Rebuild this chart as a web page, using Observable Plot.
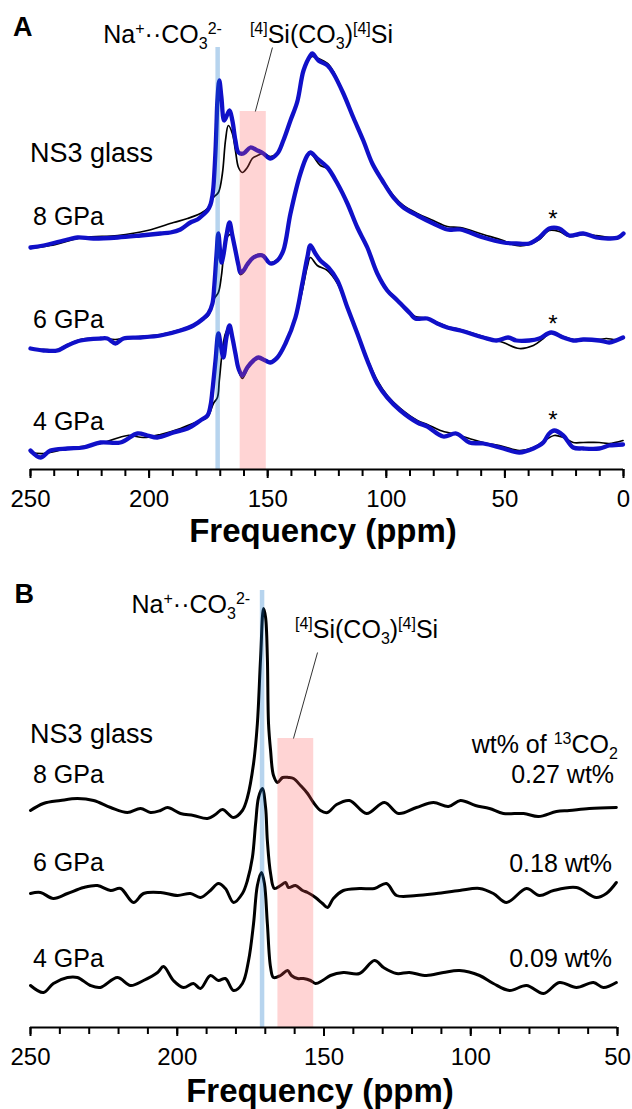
<!DOCTYPE html>
<html>
<head>
<meta charset="utf-8">
<script src="https://cdn.jsdelivr.net/npm/d3@7"></script>
<script src="https://cdn.jsdelivr.net/npm/@observablehq/plot@0.6"></script>
<style>
  body { margin: 0; background: #fff; }
  #fig svg { display: block; }
  #fig text { white-space: pre; }
</style>
</head>
<body>
<div id="fig"></div>
<script>
// 13C MAS NMR spectra of NS3 glasses quenched from 4, 6 and 8 GPa.
// Panel A: black = reference spectrum, blue = second acquisition; panel B: carbonate region.
const FONT = '"Liberation Sans", Arial, Helvetica, sans-serif';
const BLUE = "#1010c8";

const pressures = ["8 GPa", "6 GPa", "4 GPa"];
const wtLabels = ["0.27 wt%", "0.18 wt%", "0.09 wt%"];
const ticksA = [250, 200, 150, 100, 50, 0];
const ticksB = [250, 200, 150, 100, 50];
const minorA = d3.range(0, 251, 10);
const minorB = d3.range(50, 251, 10);

// vertical stacking offsets of each spectrum (a.u.)
const offsetsA = [22.2, 12.1, 1.7];
const offsetsB = [21.7, 13.4, 4.2];

// assignment ranges (ppm)
const naCarbonate = 171.1;
const bridgingA = [161.6, 150.6];
const bridgingB = [165.7, 153.5];

// ---- Panel A spectra: [ppm, intensity a.u.] ----
const a8Blue = [[250.0,0.0],[244.5,0.2],[234.4,0.8],[230.2,1.0],[223.5,0.9],[213.3,1.0],[203.6,1.2],[195.2,1.4],[191.0,1.5],[186.8,1.8],[182.6,2.5],[179.6,2.8],[177.1,3.3],[175.4,3.7],[174.1,4.3],[173.3,5.2],[172.9,6.0],[172.0,9.7],[171.6,12.2],[171.2,14.7],[170.4,16.7],[169.5,15.0],[168.3,12.7],[166.1,13.7],[164.9,12.7],[163.6,10.7],[162.3,9.5],[160.2,9.4],[157.3,10.0],[154.3,9.7],[151.8,9.4],[148.9,8.9],[145.9,9.4],[143.4,10.7],[140.4,12.7],[137.5,14.6],[134.9,17.7],[132.0,19.2],[131.2,19.4],[128.6,18.7],[124.8,18.2],[122.3,17.4],[118.1,15.4],[113.9,13.0],[109.7,10.7],[105.9,8.4],[101.7,6.7],[97.0,5.0],[92.8,4.0],[86.9,3.2],[80.2,2.4],[74.3,1.8],[68.8,1.8],[59.1,1.0],[50.7,0.5],[45.2,0.4],[39.7,0.4],[35.5,1.0],[31.3,1.9],[27.1,1.9],[22.9,1.2],[17.0,1.4],[11.5,1.0],[6.0,0.9],[2.2,1.0],[0.0,1.4]];
const a8Black = [[250.0,-0.1],[241.6,0.2],[227.7,1.0],[213.3,1.2],[200.7,1.7],[189.7,2.5],[183.8,2.9],[178.4,3.4],[175.4,3.9],[172.9,5.0],[170.8,5.5],[169.1,7.4],[167.8,10.7],[166.6,12.2],[164.9,11.4],[163.6,9.7],[162.3,8.0],[160.7,7.5],[158.6,8.0],[156.5,8.9],[154.3,9.2],[151.8,9.4],[148.9,9.1],[145.9,9.5],[143.4,10.8],[140.4,12.8],[137.5,14.7],[134.9,17.6],[132.0,19.0],[131.2,19.1],[128.6,18.9],[124.8,18.4],[122.3,17.6],[118.1,15.5],[113.9,13.1],[109.7,10.8],[105.9,8.5],[101.7,6.8],[97.0,5.2],[92.8,4.2],[86.9,3.4],[80.2,2.7],[74.3,2.1],[68.8,2.0],[59.1,1.3],[50.7,0.7],[45.2,0.2],[39.7,0.3],[35.5,0.8],[31.3,1.7],[27.1,1.6],[22.9,1.1],[17.0,1.3],[11.5,1.2],[6.0,1.0],[2.2,1.1],[0.0,1.4]];
const a6Blue = [[250.0,0.0],[244.5,-0.2],[238.6,-0.2],[234.4,0.3],[228.9,0.8],[220.5,1.0],[217.6,1.0],[214.2,0.5],[210.8,1.0],[203.6,1.1],[195.2,1.3],[186.8,1.8],[181.3,2.3],[177.1,3.0],[175.0,3.5],[173.3,4.5],[172.5,6.3],[171.6,9.3],[170.8,11.5],[169.5,8.6],[168.7,9.3],[167.4,11.3],[166.1,12.6],[164.9,11.3],[163.6,9.8],[162.3,8.3],[161.5,7.6],[160.2,7.8],[158.6,8.4],[156.0,9.1],[152.2,9.3],[148.9,8.5],[145.9,8.8],[143.4,9.8],[140.4,13.5],[136.2,17.5],[133.3,19.3],[132.0,19.6],[129.1,19.0],[124.8,18.1],[120.6,16.5],[116.4,14.5],[112.2,12.1],[108.0,10.1],[103.8,7.5],[99.6,5.8],[95.3,4.8],[89.9,3.5],[87.8,3.0],[82.7,3.0],[78.5,2.5],[74.3,2.1],[68.8,1.8],[59.1,1.1],[53.6,0.8],[48.6,1.1],[45.2,0.8],[39.7,0.8],[35.5,1.0],[30.5,1.6],[25.4,1.1],[21.2,0.8],[17.0,0.9],[10.2,0.8],[6.0,0.6],[3.1,0.8],[0.2,1.1]];
const a6Black = [[250.0,0.0],[244.5,-0.1],[238.6,-0.1],[234.4,0.4],[228.9,0.9],[220.5,1.0],[214.2,0.9],[210.8,1.0],[203.6,1.2],[195.2,1.4],[186.8,1.9],[181.3,2.3],[177.1,2.9],[175.0,3.3],[173.3,4.3],[172.5,5.0],[170.8,5.6],[169.5,7.3],[168.3,9.8],[166.6,11.3],[165.3,11.4],[163.6,9.9],[162.3,8.0],[161.5,7.4],[160.2,7.6],[158.6,8.4],[156.0,9.2],[152.2,9.4],[148.9,8.6],[145.9,8.9],[143.4,9.9],[140.4,13.4],[136.2,17.4],[133.3,19.2],[132.0,19.5],[127.8,18.3],[124.8,18.0],[120.6,16.4],[116.4,14.4],[112.2,12.0],[108.0,10.0],[103.8,7.6],[99.6,5.9],[95.3,4.9],[89.9,3.6],[87.8,3.2],[82.7,3.0],[78.5,2.6],[74.3,2.2],[68.8,1.9],[59.1,1.2],[50.7,0.6],[43.9,0.0],[38.0,0.3],[33.8,1.0],[30.5,1.6],[25.4,1.2],[21.2,0.9],[17.0,0.9],[10.2,0.9],[7.3,1.0],[3.1,0.9],[0.2,1.1]];
const a4Blue = [[250.0,0.2],[245.8,-0.5],[241.6,0.2],[234.4,0.4],[227.7,0.5],[220.5,1.0],[212.1,1.0],[204.9,1.9],[200.7,1.7],[196.5,1.5],[189.7,2.0],[183.8,2.4],[178.4,3.2],[175.4,3.7],[174.1,4.7],[173.3,6.2],[172.0,9.2],[170.8,11.9],[169.9,10.9],[168.7,9.5],[167.4,11.5],[166.1,12.7],[164.9,11.5],[163.6,9.9],[162.3,8.4],[160.7,7.7],[158.6,8.5],[156.0,9.2],[153.9,9.5],[151.0,9.2],[148.9,9.0],[145.9,9.5],[142.5,10.9],[138.3,13.5],[135.4,16.9],[133.3,19.5],[132.0,20.7],[129.9,19.9],[127.8,19.2],[124.4,18.5],[120.6,17.2],[116.4,14.5],[112.2,11.9],[108.0,9.2],[103.8,6.9],[99.6,5.5],[94.1,4.2],[86.9,3.0],[82.7,2.6],[76.0,1.6],[70.5,1.9],[65.0,1.0],[59.1,0.9],[50.7,0.4],[43.9,0.0],[38.0,0.4],[33.8,1.0],[31.3,1.9],[29.2,2.2],[25.4,1.7],[21.2,0.5],[17.0,0.4],[10.2,0.4],[6.0,0.7],[0.2,0.8]];
const a4Black = [[250.0,0.0],[244.5,-0.1],[234.4,0.4],[220.5,0.9],[209.1,1.7],[202.4,1.5],[195.2,1.8],[186.8,2.4],[178.4,3.2],[175.4,3.5],[172.9,4.9],[171.2,5.5],[170.4,7.2],[169.1,10.2],[167.8,11.9],[166.1,12.6],[164.9,11.5],[163.6,9.7],[162.3,8.2],[160.7,7.4],[158.6,8.3],[156.0,9.2],[153.9,9.5],[151.0,9.3],[148.9,9.1],[145.9,9.6],[142.5,10.9],[138.3,13.4],[135.4,16.2],[133.3,18.6],[132.0,19.5],[129.1,18.7],[124.8,18.2],[120.6,16.9],[116.4,14.4],[112.2,12.0],[108.0,9.4],[103.8,7.2],[99.6,5.7],[94.1,4.4],[86.9,3.2],[82.7,2.8],[77.2,2.2],[70.5,1.8],[65.0,1.4],[59.1,1.0],[50.7,0.6],[43.9,0.2],[38.0,0.5],[33.8,1.1],[29.2,1.7],[25.4,1.5],[21.2,1.0],[17.0,1.0],[10.2,1.0],[6.0,0.9],[0.2,1.2]];

// ---- Panel B spectra: [ppm, intensity a.u.] ----
const b8 = [[250.0,0.0],[245.6,0.7],[239.8,1.0],[234.0,1.2],[228.5,1.0],[222.7,0.3],[217.0,-0.2],[212.5,0.2],[209.1,-0.2],[205.7,0.0],[203.3,0.3],[198.9,-0.3],[194.5,-0.5],[189.7,-0.8],[187.0,-0.4],[184.6,0.1],[180.8,-0.7],[177.8,0.0],[176.1,1.3],[174.0,4.7],[172.7,8.7],[171.6,15.3],[170.6,20.2],[169.9,19.3],[169.3,15.3],[168.9,8.7],[168.2,6.0],[167.2,3.5],[165.8,2.8],[164.1,3.3],[162.1,3.3],[160.4,3.2],[158.0,2.5],[155.6,1.7],[153.6,0.8],[151.2,0.0],[148.8,-0.2],[145.7,0.6],[141.3,1.0],[135.5,-0.3],[129.4,0.8],[124.6,-0.3],[118.5,0.3],[112.7,0.8],[107.6,0.4],[103.5,1.0],[98.4,0.5],[93.6,0.2],[88.9,-0.3],[82.0,-0.3],[76.9,-0.6],[70.8,-0.1],[66.4,0.0],[59.6,0.2],[50.4,0.3]];
const b6 = [[250.0,0.0],[246.6,0.1],[242.2,-0.5],[237.4,0.0],[231.9,0.6],[227.2,0.8],[222.7,0.3],[219.3,0.5],[214.9,-0.9],[211.5,0.0],[205.7,0.1],[199.9,-0.2],[195.5,0.0],[192.1,-0.4],[188.7,0.3],[186.0,1.0],[183.6,0.5],[180.8,-0.9],[177.8,0.0],[176.1,1.3],[174.4,3.6],[173.3,7.0],[172.3,9.6],[171.0,10.5],[169.9,8.6],[169.3,5.3],[168.2,2.0],[166.9,0.5],[164.8,0.8],[163.1,1.1],[162.1,0.6],[159.7,0.8],[157.3,0.3],[155.6,0.1],[152.9,-0.4],[150.5,-1.0],[148.8,-1.4],[146.8,-0.5],[143.4,0.3],[137.9,0.5],[132.8,0.5],[128.7,1.0],[125.3,-0.2],[118.5,-0.2],[111.7,0.0],[103.8,0.3],[97.0,0.5],[92.3,0.0],[87.8,-0.9],[81.0,0.5],[76.6,-0.2],[71.8,0.3],[64.0,0.6],[57.2,-0.4],[53.8,0.0],[50.4,1.1]];
const b4 = [[250.0,0.0],[245.6,-0.7],[242.2,0.2],[237.4,0.8],[234.0,0.8],[229.6,0.0],[226.2,-0.2],[220.4,0.8],[215.9,0.0],[211.5,0.5],[206.7,1.3],[204.7,1.9],[201.3,0.5],[197.9,-0.2],[194.5,0.2],[192.1,-0.3],[188.7,1.0],[186.0,0.5],[183.6,0.7],[180.8,-0.5],[177.8,0.2],[175.7,2.5],[174.0,6.2],[172.7,10.0],[171.3,11.3],[170.3,10.2],[169.3,6.2],[168.2,1.8],[167.2,0.8],[164.8,1.0],[162.4,1.5],[161.1,1.0],[159.0,0.7],[157.0,0.7],[154.6,0.5],[152.9,0.2],[150.5,0.5],[147.8,1.0],[143.4,1.3],[137.9,1.2],[132.8,2.5],[129.7,1.8],[125.3,1.2],[120.9,1.3],[115.1,1.0],[109.3,1.3],[103.8,1.5],[97.0,1.0],[92.3,0.2],[86.8,-0.5],[81.0,0.0],[75.2,-0.8],[69.8,0.3],[64.0,-0.2],[58.2,0.3],[54.8,-0.2],[50.4,0.3]];

// flatten a set of spectra into rows, lifted by their stacking offsets
function stack(spectra, offsets, tag) {
  return spectra.flatMap((s, i) =>
    s.map(([ppm, v]) => ({ppm, y: offsets[i] + v, key: tag + " " + pressures[i]})));
}

// text with super/subscript runs, placed through the plot's own scales
function rich(x, y, parts, {anchor = "start", size = 25, weight = "normal"} = {}) {
  return (index, scales) => {
    const t = d3.create("svg:text")
      .attr("x", scales.x(x)).attr("y", scales.y(y))
      .attr("text-anchor", anchor)
      .attr("font-family", FONT).attr("font-size", size).attr("font-weight", weight)
      .attr("fill", "#000");
    let shift = 0;
    for (const p of [].concat(parts)) {
      const [s, k] = Array.isArray(p) ? p : [p, ""];
      const target = k === "sup" ? -0.38 * size : k === "sub" ? 0.24 * size : 0;
      t.append("tspan").attr("dy", target - shift)
        .attr("font-size", k ? 0.64 * size : size).text(s);
      shift = target;
    }
    return t.node();
  };
}

const naLabel = ["Na", ["+", "sup"], "\u00B7\u00B7CO", ["3", "sub"], ["2-", "sup"]];
const siLabel = [["[4]", "sup"], "Si(CO", ["3", "sub"], ")", ["[4]", "sup"], "Si"];

function axisMarks(ticks, minor, titleDy) {
  return [
    Plot.ruleY([0], {stroke: "#000", strokeWidth: 2}),
    Plot.axisX({ticks: minor, tickSize: 7, strokeWidth: 2, tickFormat: () => "", label: null}),
    Plot.axisX({ticks, tickSize: 9, tickPadding: 11, strokeWidth: 2, fontSize: 24, tickFormat: d => String(d), label: null}),
    Plot.text(["Frequency (ppm)"], {text: d => d, frameAnchor: "bottom", dy: titleDy, dx: -4,
      lineAnchor: "bottom", fontSize: 33, fontWeight: "bold", fill: "#000"})
  ];
}

const lineOpts = {x: "ppm", y: "y", z: "key", curve: "catmull-rom", strokeLinejoin: "round", strokeLinecap: "round"};

// ---------------- Panel A ----------------
const blackA = stack([a8Black, a6Black, a4Black], offsetsA, "ref");
const blueA = stack([a8Blue, a6Blue, a4Blue], offsetsA, "new");

const plotA = Plot.plot({
  width: 632, height: 552,
  marginLeft: 30, marginRight: 9, marginTop: 0, marginBottom: 83,
  x: {domain: [250, 0]},
  y: {domain: [0, 46.9], axis: null},
  style: {fontFamily: FONT, fontSize: "24px", background: "#fff", color: "#000", overflow: "visible"},
  marks: [
    Plot.line(blackA, {...lineOpts, stroke: "#000", strokeWidth: 1.7}),
    Plot.line(blueA, {...lineOpts, stroke: BLUE, strokeWidth: 4.3}),
    Plot.rect([{x1: bridgingA[0], x2: bridgingA[1], y1: 0, y2: 35.8}],
      {x1: "x1", x2: "x2", y1: "y1", y2: "y2", fill: "#ff5555", fillOpacity: 0.25}),
    Plot.ruleX([naCarbonate], {y1: 0, y2: 42.2, stroke: "#1270c6", strokeOpacity: 0.3, strokeWidth: 4.5}),
    Plot.link([{x1: 155.2, y1: 35.8, x2: 148.0, y2: 42.2}],
      {x1: "x1", y1: "y1", x2: "x2", y2: "y2", stroke: "#333", strokeWidth: 1}),
    ...axisMarks(ticksA, minorA, 72),
    rich(257.2, 43.3, "A", {size: 27, weight: "bold"}),
    rich(169.1, 42.6, naLabel, {anchor: "end"}),
    rich(157.3, 42.6, siLabel),
    rich(250, 30.7, "NS3 glass", {size: 27}),
    rich(248.7, 24.4, pressures[0]),
    rich(248.7, 14.1, pressures[1]),
    rich(248.7, 3.9, pressures[2]),
    rich(29.5, 24.2, "*", {anchor: "middle", size: 24}),
    rich(29.5, 13.7, "*", {anchor: "middle", size: 24}),
    rich(29.5, 4.1, "*", {anchor: "middle", size: 24})
  ]
});

// ---------------- Panel B ----------------
const linesB = stack([b8, b6, b4], offsetsB, "b");

const plotB = Plot.plot({
  width: 632, height: 557,
  marginLeft: 30, marginRight: 15, marginTop: 0, marginBottom: 82,
  x: {domain: [250, 50]},
  y: {domain: [0, 47.5], axis: null},
  style: {fontFamily: FONT, fontSize: "24px", background: "#fff", color: "#000", overflow: "visible"},
  marks: [
    Plot.line(linesB, {...lineOpts, stroke: "#000", strokeWidth: 3}),
    Plot.rect([{x1: bridgingB[0], x2: bridgingB[1], y1: 0, y2: 28.9}],
      {x1: "x1", x2: "x2", y1: "y1", y2: "y2", fill: "#ff5555", fillOpacity: 0.25}),
    Plot.ruleX([naCarbonate], {y1: 0, y2: 43.7, stroke: "#1270c6", strokeOpacity: 0.3, strokeWidth: 4.5}),
    Plot.link([{x1: 160.4, y1: 28.9, x2: 152.2, y2: 37.5}],
      {x1: "x1", y1: "y1", x2: "x2", y2: "y2", stroke: "#333", strokeWidth: 1}),
    ...axisMarks(ticksB, minorB, 74),
    rich(255.3, 42.4, "B", {size: 27, weight: "bold"}),
    rich(175.0, 41.4, naLabel, {anchor: "end"}),
    rich(159.7, 38.9, siLabel),
    rich(250, 28.4, "NS3 glass", {size: 27}),
    rich(249.0, 24.4, pressures[0]),
    rich(249.0, 15.6, pressures[1]),
    rich(249.0, 6.0, pressures[2]),
    rich(49.7, 27.4, ["wt% of ", ["13", "sup"], "CO", ["2", "sub"]], {anchor: "end"}),
    rich(51.0, 24.4, wtLabels[0], {anchor: "end"}),
    rich(51.7, 15.5, wtLabels[1], {anchor: "end"}),
    rich(51.7, 6.0, wtLabels[2], {anchor: "end"})
  ]
});

document.getElementById("fig").append(plotA, plotB);
</script>
</body>
</html>
